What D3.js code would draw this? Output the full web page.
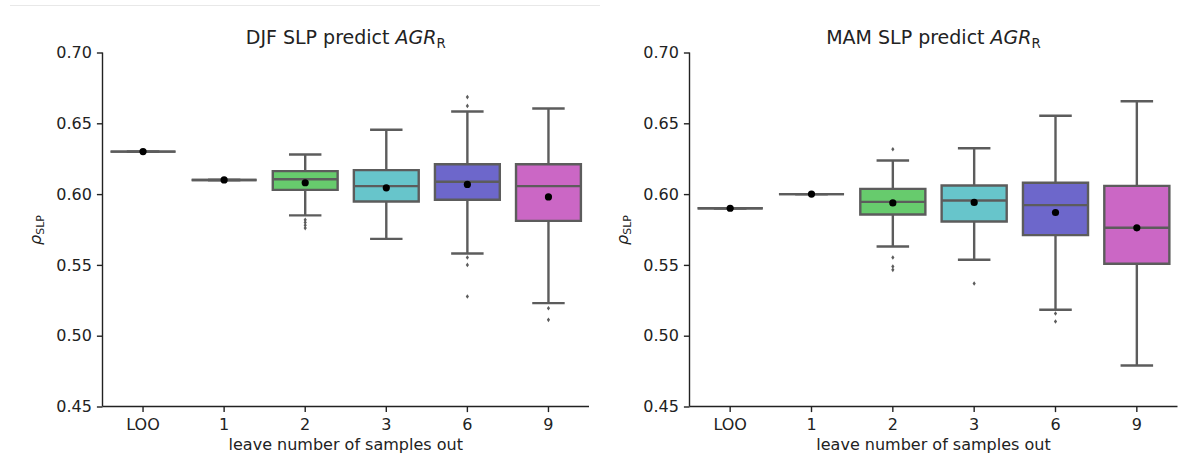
<!DOCTYPE html>
<html>
<head>
<meta charset="utf-8">
<script src="https://cdn.jsdelivr.net/npm/d3@7"></script>
<style>
  body { margin:0; background:#fff; }
  svg { display:block; font-family:"DejaVu Sans", sans-serif; }
</style>
</head>
<body>
<svg></svg>
<script>
// categories on the x axis
var categories = ["LOO","1","2","3","6","9"];
var boxColors = ["#cb6d67","#c5cb67","#67cb6d","#67c5cb","#6d67cb","#cb67c5"];
var yTicks = [0.45,0.50,0.55,0.60,0.65,0.70];

// DJF panel
var djfLow    = [0.630,0.610,0.585,0.5684,0.5581,0.523];
var djfQ1     = [0.630,0.610,0.603,0.5948,0.596,0.5811];
var djfMedian = [0.630,0.610,0.6105,0.6056,0.6087,0.6056];
var djfQ3     = [0.630,0.610,0.6162,0.6169,0.6211,0.6211];
var djfHigh   = [0.630,0.610,0.628,0.6454,0.6583,0.6605];
var djfMean   = [0.630,0.610,0.608,0.6044,0.6068,0.598];
var djfOutliers = [[],[],[0.5818,0.580,0.578,0.576],[],[0.6685,0.6623,0.5552,0.550,0.5277],[0.5194,0.5112]];

// MAM panel
var mamLow    = [0.590,0.600,0.563,0.5536,0.5183,0.479];
var mamQ1     = [0.590,0.600,0.5856,0.5807,0.571,0.5508];
var mamMedian = [0.590,0.600,0.5945,0.5955,0.5922,0.5762];
var mamQ3     = [0.590,0.600,0.6037,0.6061,0.608,0.6058];
var mamHigh   = [0.590,0.600,0.6237,0.6324,0.6553,0.6656];
var mamMean   = [0.590,0.600,0.5938,0.5941,0.587,0.5762];
var mamOutliers = [[],[],[0.6317,0.5552,0.5489,0.5465],[0.5369],[0.5157,0.510],[]];

var screen = {width:1186, height:472};
var svg = d3.select('svg')
          .attr('width',screen.width)
          .attr('height',screen.height);

// faint line along the top of the left half
svg.append('line')
   .attr('x1',10).attr('x2',600)
   .attr('y1',5.5).attr('y2',5.5)
   .attr('stroke','#e8e8e8')
   .attr('stroke-width',1);

var lineGray = "#5c5c5c";
var ink = "#222";

var drawPanel = function(opts)
{
  var top = 52.5, bottom = 406.5;
  var xScale = d3.scaleBand()
               .domain(categories)
               .range([opts.left, opts.right])
               .padding(0);
  var yScale = d3.scaleLinear()
               .domain([0.45,0.70])
               .range([bottom, top]);
  var boxW = xScale.bandwidth()*0.8;

  var g = svg.append('g').classed('panel',true);

  // build a record per category
  var boxes = categories.map(function(c,i){
    return {cat:c, color:boxColors[i], low:opts.low[i], q1:opts.q1[i], med:opts.median[i],
            q3:opts.q3[i], high:opts.high[i], mean:opts.mean[i], out:opts.outliers[i]};
  });

  var box = g.selectAll('.box')
             .data(boxes)
             .enter()
             .append('g')
             .attr('class','box');

  var cx = function(d){ return xScale(d.cat)+xScale.bandwidth()/2; };

  // whiskers
  box.append('line')
     .attr('x1',cx).attr('x2',cx)
     .attr('y1',function(d){return yScale(d.high);})
     .attr('y2',function(d){return yScale(d.q3);})
     .attr('stroke',lineGray).attr('stroke-width',2.4);
  box.append('line')
     .attr('x1',cx).attr('x2',cx)
     .attr('y1',function(d){return yScale(d.q1);})
     .attr('y2',function(d){return yScale(d.low);})
     .attr('stroke',lineGray).attr('stroke-width',2.4);
  // caps
  [ 'high','low' ].forEach(function(k){
    box.append('line')
       .attr('x1',function(d){return cx(d)-boxW/4;})
       .attr('x2',function(d){return cx(d)+boxW/4;})
       .attr('y1',function(d){return yScale(d[k]);})
       .attr('y2',function(d){return yScale(d[k]);})
       .attr('stroke',lineGray).attr('stroke-width',2.4);
  });

  // box body (path so a zero height box still shows as a line)
  box.append('path')
     .attr('d',function(d){
       var x0 = cx(d)-boxW/2, x1 = cx(d)+boxW/2;
       var y0 = yScale(d.q3), y1 = yScale(d.q1);
       return "M"+x0+","+y0+"H"+x1+"V"+y1+"H"+x0+"Z";
     })
     .attr('fill',function(d){return d.color;})
     .attr('stroke',lineGray)
     .attr('stroke-width',2.4);

  // median
  box.append('line')
     .attr('x1',function(d){return cx(d)-boxW/2;})
     .attr('x2',function(d){return cx(d)+boxW/2;})
     .attr('y1',function(d){return yScale(d.med);})
     .attr('y2',function(d){return yScale(d.med);})
     .attr('stroke',lineGray).attr('stroke-width',2.4);

  // outliers - small diamonds
  box.selectAll('.flier')
     .data(function(d){ return d.out.map(function(v){return {x:cx(d), v:v};}); })
     .enter()
     .append('path')
     .attr('class','flier')
     .attr('d',function(d){
       var y = yScale(d.v);
       return "M"+d.x+","+(y-2.3)+"L"+(d.x+1.6)+","+y+"L"+d.x+","+(y+2.3)+"L"+(d.x-1.6)+","+y+"Z";
     })
     .attr('fill',lineGray);

  // mean dot
  box.append('circle')
     .attr('cx',cx)
     .attr('cy',function(d){return yScale(d.mean);})
     .attr('r',3.6)
     .attr('fill','black');

  // axes
  var yAxis = d3.axisLeft(yScale)
                .tickValues(yTicks)
                .tickFormat(d3.format('.2f'))
                .tickSize(5.6)
                .tickPadding(5);
  var yG = g.append('g')
            .attr('transform','translate('+opts.left+',0)')
            .call(yAxis);
  var xAxis = d3.axisBottom(xScale)
                .tickSize(5.6)
                .tickPadding(6.5);
  var xG = g.append('g')
            .attr('transform','translate(0,'+bottom+')')
            .call(xAxis);
  [yG,xG].forEach(function(a){
    a.select('.domain').attr('stroke',ink).attr('stroke-width',1.4);
    a.selectAll('.tick line').attr('stroke',ink).attr('stroke-width',1.4);
    a.selectAll('.tick text').attr('fill',ink).style('font-size','16px')
     .style('font-family','"DejaVu Sans", sans-serif');
  });
  // no outer ticks on the spines
  yG.select('.domain').attr('d','M0,'+top+'V'+bottom);
  xG.select('.domain').attr('d','M'+opts.left+',0H'+opts.right);

  // title
  var mid = (opts.left+opts.right)/2;
  var title = g.append('text')
               .attr('x',mid)
               .attr('y',44.3)
               .attr('text-anchor','middle')
               .attr('fill',ink)
               .style('font-size','19px');
  title.append('tspan').text(opts.title+' ');
  title.append('tspan').style('font-style','italic').text('AGR');
  title.append('tspan').attr('dy',3.5).style('font-size','13.3px').text('R');

  // x label
  g.append('text')
   .attr('x',mid)
   .attr('y',450)
   .attr('text-anchor','middle')
   .attr('fill',ink)
   .style('font-size','16px')
   .text('leave number of samples out');

  // y label rho_SLP
  var yl = g.append('text')
            .attr('transform','translate('+(opts.left-61.5)+',230) rotate(-90)')
            .attr('text-anchor','middle')
            .attr('fill',ink)
            .style('font-size','16px');
  yl.append('tspan').style('font-style','italic').text('\u03c1');
  yl.append('tspan').attr('dy',3).style('font-size','11px').text('SLP');
};

drawPanel({left:102.5, right:589, title:'DJF SLP predict',
           low:djfLow, q1:djfQ1, median:djfMedian, q3:djfQ3, high:djfHigh, mean:djfMean, outliers:djfOutliers});
drawPanel({left:689.5, right:1177.5, title:'MAM SLP predict',
           low:mamLow, q1:mamQ1, median:mamMedian, q3:mamQ3, high:mamHigh, mean:mamMean, outliers:mamOutliers});
</script>
</body>
</html>
